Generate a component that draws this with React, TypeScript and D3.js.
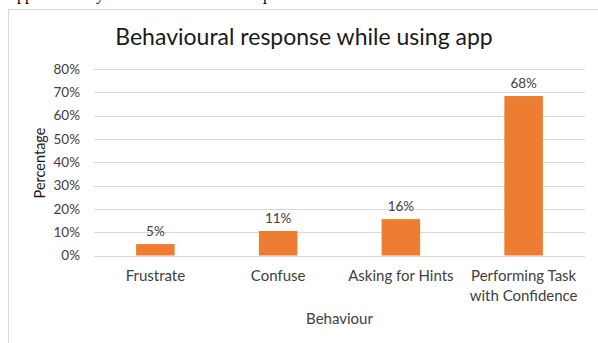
import React from "react";
import * as d3 from "d3";

const categories: string[][] = [
  ["Frustrate"],
  ["Confuse"],
  ["Asking for Hints"],
  ["Performing Task", "with Confidence"],
];
const values: number[] = [4.9, 10.5, 15.6, 68.4];
const yTicks: number[] = [0, 10, 20, 30, 40, 50, 60, 70, 80];
const title = "Behavioural response while using app";
const xTitle = "Behaviour";
const yTitle = "Percentage";

const W = 598;
const H = 343;
const plot = { left: 94, right: 585, top: 69, bottom: 255.5 };
const FONT = "Lato, 'Open Sans', sans-serif";

export default function App() {
  const x = d3
    .scaleBand<number>()
    .domain(categories.map((_, i) => i))
    .range([plot.left, plot.right])
    .paddingInner(0.686)
    .paddingOuter(0.343);
  const y = d3.scaleLinear().domain([0, 80]).range([plot.bottom, plot.top]);

  return (
    <svg
      width={W}
      height={H}
      style={{ position: "absolute", left: 0, top: 0, background: "#fff" }}
    >
      {/* cut-off text line from the page above */}
      <g fontFamily="'Liberation Serif', serif" fontSize={16} fill="#000">
        <text x={17} y={0}>pp</text>
        <text x={96} y={0}>y</text>
        <text x={263} y={0}>p</text>
      </g>
      {/* chart border */}
      <line x1={8.5} y1={9} x2={8.5} y2={H} stroke="#D9D9D9" strokeWidth={1} />
      <line x1={8} y1={9.5} x2={W} y2={9.5} stroke="#D9D9D9" strokeWidth={1} />

      <text
        x={304}
        y={44.5}
        textAnchor="middle"
        fontFamily={FONT}
        fontSize={23}
        fill="#1a1a1a"
      >
        {title}
      </text>

      {yTicks.map((t) => (
        <g key={t}>
          <line
            x1={plot.left}
            x2={plot.right}
            y1={Math.round(y(t)) + 0.5}
            y2={Math.round(y(t)) + 0.5}
            stroke="#D9D9D9"
            strokeWidth={1}
          />
          <text
            x={80}
            y={y(t)}
            dy="0.35em"
            textAnchor="end"
            fontFamily={FONT}
            fontSize={13.5}
            fill="#404040"
          >
            {`${t}%`}
          </text>
        </g>
      ))}

      {values.map((v, i) => (
        <g key={i}>
          <rect
            x={x(i)}
            y={y(v)}
            width={x.bandwidth()}
            height={y(0) - y(v)}
            fill="#ED7D31"
          />
          <text
            x={(x(i) as number) + x.bandwidth() / 2}
            y={y(v) - 8}
            textAnchor="middle"
            fontFamily={FONT}
            fontSize={13.5}
            fill="#404040"
          >
            {`${Math.round(v)}%`}
          </text>
          {categories[i].map((line, j) => (
            <text
              key={j}
              x={(x(i) as number) + x.bandwidth() / 2}
              y={281 + j * 19.5}
              textAnchor="middle"
              fontFamily={FONT}
              fontSize={15}
              fill="#404040"
            >
              {line}
            </text>
          ))}
        </g>
      ))}

      <text
        x={(plot.left + plot.right) / 2}
        y={324}
        textAnchor="middle"
        fontFamily={FONT}
        fontSize={15}
        fill="#404040"
      >
        {xTitle}
      </text>
      <text
        transform={`translate(45,163) rotate(-90)`}
        textAnchor="middle"
        fontFamily={FONT}
        fontSize={14.5}
        fill="#1a1a1a"
      >
        {yTitle}
      </text>
    </svg>
  );
}
